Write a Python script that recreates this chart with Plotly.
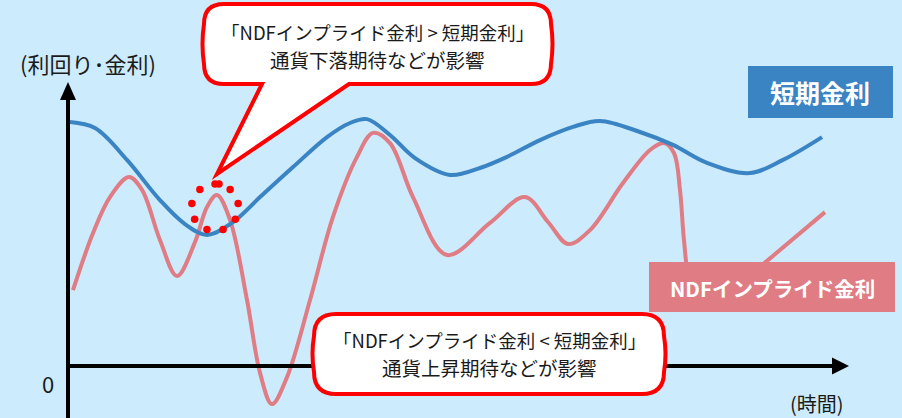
import numpy as np
import plotly.graph_objects as go

# ---------------- data ----------------
# time axis: 0 .. 100 (arrow tip), rate axis: 0 at the horizontal axis
t_short = [0.26, 3.46, 7.56, 11.79, 15.00, 17.82, 21.15, 24.62, 28.85, 33.21,
           36.15, 38.33, 41.28, 44.49, 48.97, 52.82, 56.28, 60.51, 64.74, 68.21,
           73.33, 77.56, 81.92, 87.44, 91.67, 96.67]
v_short = [8.13, 7.93, 6.87, 5.53, 4.73, 4.37, 4.80, 5.63, 6.63, 7.63,
           8.10, 8.23, 7.70, 6.93, 6.37, 6.60, 6.97, 7.53, 7.97, 8.17,
           7.80, 7.37, 6.77, 6.43, 6.87, 7.63]

t_ndf = [0.64, 3.21, 5.38, 7.82, 9.49, 11.79, 13.97, 16.28, 17.82, 19.10,
         20.77, 22.95, 24.62, 26.15, 28.08, 31.03, 33.97, 37.05, 39.10, 41.28,
         44.23, 48.59, 54.10, 58.59, 61.54, 64.10, 66.92, 71.15, 74.62, 76.41,
         77.69, 78.46, 78.97, 79.74, 81.03, 83.59, 89.74, 97.05]
v_ndf = [2.53, 4.43, 5.63, 6.30, 5.87, 4.20, 3.00, 4.13, 5.30, 5.70,
         4.87, 2.20, -0.23, -1.27, -0.37, 2.20, 4.97, 6.97, 7.77, 7.43,
         5.63, 3.70, 4.77, 5.63, 4.80, 4.07, 4.53, 6.10, 7.20, 7.43,
         7.10, 5.87, 4.20, 2.70, 2.10, 2.20, 3.53, 5.13]

series_names = ["NDFインプライド金利", "短期金利"]
y_title = "(利回り･金利)"
x_title = "(時間)"
zero_label = "0"
callout_top = ["「NDFインプライド金利 > 短期金利」", "通貨下落期待などが影響"]
callout_bottom = ["「NDFインプライド金利 < 短期金利」", "通貨上昇期待などが影響"]

# ---------------- styling / geometry ----------------
W, H = 902, 418
X0_PX, PX_PER_T = 68, 7.8
Y0_PX, PX_PER_V = 366, 30
BG = "rgb(204,235,253)"
BLUE = "#3A84C4"
PINK = "#E07C84"
RED = "#FF0000"
FONT = "Noto Sans CJK JP"

x_range = [(0 - X0_PX) / PX_PER_T, (W - X0_PX) / PX_PER_T]
y_range = [(Y0_PX - H) / PX_PER_V, Y0_PX / PX_PER_V]


def fx(px):
    return px / W


def fy(py):
    return 1 - py / H


def to_t(px):
    return (px - X0_PX) / PX_PER_T


def to_v(py):
    return (Y0_PX - py) / PX_PER_V


def P(x, y):
    return f"{fx(x):.5f},{fy(y):.5f}"


def bubble_path(x0, y0, x1, y1, r, tail=None):
    s = f"M {P(x0 + r, y0)} L {P(x1 - r, y0)} Q {P(x1, y0)} {P(x1, y0 + r)} "
    s += f"Q {P(x1 + 3, (y0 + y1) / 2)} {P(x1, y1 - r)} "
    s += f"Q {P(x1, y1)} {P(x1 - r, y1)} "
    if tail:
        (bx1, tipx, tipy, bx0) = tail
        s += f"L {P(bx1, y1)} L {P(tipx, tipy)} L {P(bx0, y1)} "
    s += f"L {P(x0 + r, y1)} Q {P(x0, y1)} {P(x0, y1 - r)} "
    s += f"Q {P(x0 - 3, (y0 + y1) / 2)} {P(x0, y0 + r)} "
    s += f"Q {P(x0, y0)} {P(x0 + r, y0)} Z"
    return s


fig = go.Figure()
fig.add_trace(go.Scatter(x=t_ndf, y=v_ndf, mode="lines", name=series_names[0],
                         line=dict(color=PINK, width=4, shape="spline", smoothing=1.0),
                         hoverinfo="skip"))
fig.add_trace(go.Scatter(x=t_short, y=v_short, mode="lines", name=series_names[1],
                         line=dict(color=BLUE, width=4, shape="spline", smoothing=1.0),
                         hoverinfo="skip"))

# dotted ring around the crossing
cx, cy, rr = 215, 207.5, 23.5
ang = np.deg2rad(90 - 40 * np.arange(9))
ring_x = [to_t(cx + rr * np.cos(a)) for a in ang] + [to_t(cx + 4)]
ring_y = [to_v(cy - rr * np.sin(a)) for a in ang] + [to_v(cy - rr)]
fig.add_trace(go.Scatter(x=ring_x, y=ring_y, mode="markers",
                         marker=dict(color=RED, size=7.5), hoverinfo="skip"))

shapes = []
# axes
shapes.append(dict(type="line", xref="x", yref="y", x0=0, x1=0,
                   y0=y_range[0], y1=to_v(98), line=dict(color="black", width=4)))
shapes.append(dict(type="line", xref="x", yref="y", x0=0, x1=to_t(834),
                   y0=0, y1=0, line=dict(color="black", width=4)))
shapes.append(dict(type="path", xref="paper", yref="paper",
                   path=f"M {P(68, 82)} L {P(76, 100)} L {P(60, 100)} Z",
                   fillcolor="black", line=dict(width=0)))
shapes.append(dict(type="path", xref="paper", yref="paper",
                   path=f"M {P(849, 366)} L {P(832, 357.5)} L {P(832, 374.5)} Z",
                   fillcolor="black", line=dict(width=0)))
# series label boxes
shapes.append(dict(type="rect", xref="paper", yref="paper",
                   x0=fx(748), x1=fx(893), y0=fy(118), y1=fy(66),
                   fillcolor=BLUE, line=dict(width=0)))
shapes.append(dict(type="rect", xref="paper", yref="paper",
                   x0=fx(649), x1=fx(895), y0=fy(312), y1=fy(262),
                   fillcolor=PINK, line=dict(width=0)))
# callouts
shapes.append(dict(type="path", xref="paper", yref="paper",
                   path=bubble_path(204, 4, 551, 84, 20, tail=(349, 217, 174, 262)),
                   fillcolor="white", line=dict(color=RED, width=4)))
shapes.append(dict(type="path", xref="paper", yref="paper",
                   path=bubble_path(314, 314, 664, 394, 22),
                   fillcolor="white", line=dict(color=RED, width=4)))

ann = []


def text(x, y, s, size, color="#1a1a1a", bold=False):
    ann.append(dict(xref="paper", yref="paper", x=fx(x), y=fy(y), text=(f"<b>{s}</b>" if bold else s),
                    showarrow=False, xanchor="center", yanchor="middle",
                    font=dict(family=FONT, size=size, color=color)))


text(88, 63, y_title, 22)
text(817, 403, x_title, 20)
text(48, 383, zero_label, 22)
text(377, 32, callout_top[0], 18.5)
text(377, 60, callout_top[1], 19.5)
text(489, 340, callout_bottom[0], 18.5)
text(489, 367, callout_bottom[1], 19.5)
text(820, 92, series_names[1], 25, color="white", bold=True)
text(772, 288, series_names[0], 20.5, color="white", bold=True)

fig.update_layout(
    width=W, height=H, autosize=False,
    margin=dict(l=0, r=0, t=0, b=0, pad=0),
    paper_bgcolor=BG, plot_bgcolor=BG,
    showlegend=False,
    xaxis=dict(range=x_range, visible=False, fixedrange=True),
    yaxis=dict(range=y_range, visible=False, fixedrange=True),
    shapes=shapes, annotations=ann,
)
fig.write_html("out.html", config={"displayModeBar": False},
               post_script="document.body.style.margin='0';document.body.style.overflow='hidden';")
